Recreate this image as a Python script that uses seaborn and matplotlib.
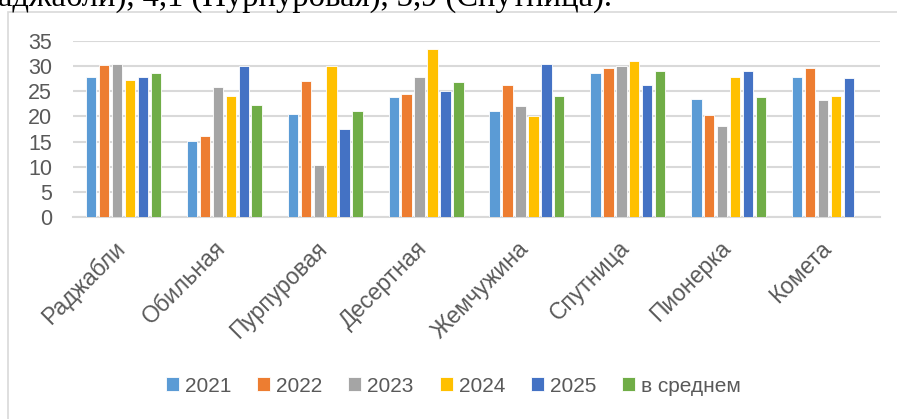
"""Grouped bar chart: values by variety and year, with the average."""

import matplotlib.pyplot as plt
import matplotlib.transforms as mtransforms
from matplotlib.patches import Rectangle
import numpy as np
import pandas as pd
import seaborn as sns


VARIETIES = ["Раджабли", "Обильная", "Пурпуровая", "Десертная",
             "Жемчужина", "Спутница", "Пионерка", "Комета"]
SERIES = ["2021", "2022", "2023", "2024", "2025", "в среднем"]
V2021 = [27.9, 15.2, 20.5, 23.8, 21.0, 28.7, 23.4, 27.9]
V2022 = [30.3, 16.2, 27.1, 24.5, 26.3, 29.6, 20.2, 29.7]
V2023 = [30.5, 25.8, 10.3, 27.9, 22.0, 30.1, 18.0, 23.2]
V2024 = [27.3, 24.0, 30.0, 33.4, 20.1, 31.1, 27.9, 24.0]
V2025 = [27.9, 30.1, 17.5, 25.0, 30.5, 26.3, 29.1, 27.6]
AVERAGE = [28.7, 22.2, 21.1, 26.9, 24.0, 29.1, 23.8, np.nan]
COLORS = ["#5B9BD5", "#ED7D31", "#A5A5A5", "#FFC000", "#4472C4", "#70AD47"]
TOP_TEXT = "аджабли), 4,1 (Пурпуровая), 3,9 (Спутница)."

GRID = "#D9D9D9"
TEXT = "#595959"


def main() -> None:
    values = [V2021, V2022, V2023, V2024, V2025, AVERAGE]
    df = pd.DataFrame({
        "sort": VARIETIES * len(SERIES),
        "series": [s for s in SERIES for _ in VARIETIES],
        "value": [v for row in values for v in row],
    })

    sns.set_style("white")
    plt.rcParams["font.family"] = ["Liberation Sans", "DejaVu Sans"]

    fig = plt.figure(figsize=(8.97, 4.19), dpi=100)
    ax = fig.add_axes([73 / 897, 1 - 217 / 419, (880 - 73) / 897, (217 - 41) / 419])

    sns.barplot(data=df, x="sort", y="value", hue="series", order=VARIETIES,
                hue_order=SERIES, palette=COLORS, saturation=1, width=0.77,
                gap=0.2, errorbar=None, edgecolor="white", linewidth=0.6,
                ax=ax, zorder=3)

    ax.set_ylim(0, 35)
    ax.set_yticks(range(0, 36, 5))
    ax.set_xlim(-0.5, len(VARIETIES) - 0.5)
    ax.grid(axis="y", color=GRID, linewidth=1.5, zorder=0)
    ax.set_axisbelow(True)
    for side in ["top", "right", "left"]:
        ax.spines[side].set_visible(False)
    ax.spines["bottom"].set_color(GRID)
    ax.spines["bottom"].set_linewidth(1.5)
    ax.set_xlabel("")
    ax.set_ylabel("")
    ax.tick_params(axis="both", length=0, colors=TEXT)
    ax.tick_params(axis="y", pad=15, labelsize=15.5)
    ax.tick_params(axis="x", pad=20, labelsize=16.5)
    offset = mtransforms.ScaledTranslation(-0.02, 0, fig.dpi_scale_trans)
    for lbl in ax.get_xticklabels():
        lbl.set_rotation(45)
        lbl.set_ha("right")
        lbl.set_va("center")
        lbl.set_rotation_mode("anchor")
        lbl.set_transform(lbl.get_transform() + offset)

    handles, labels = ax.get_legend_handles_labels()
    ax.get_legend().remove()
    fig.legend(handles, labels, loc="center", ncol=6,
               bbox_to_anchor=(0.5 + 5 / 897, 1 - 386 / 419), frameon=False,
               fontsize=15, labelcolor=TEXT, handlelength=0.62,
               handleheight=0.62, handletextpad=0.29, columnspacing=1.25)

    # chart frame (only top and left edges are visible in the crop)
    fig.patches.append(Rectangle((8 / 897, -0.1), 1.2, 1 - 12 / 419 + 0.1,
                                 transform=fig.transFigure, fill=False,
                                 edgecolor=GRID, linewidth=1.2))
    fig.text(-0.002, 1 - 6 / 419, TOP_TEXT, family="Liberation Serif",
             fontsize=23.5, va="baseline", ha="left", color="black")

    fig.savefig("out.png", dpi=100)
    plt.close(fig)


if __name__ == "__main__":
    main()
